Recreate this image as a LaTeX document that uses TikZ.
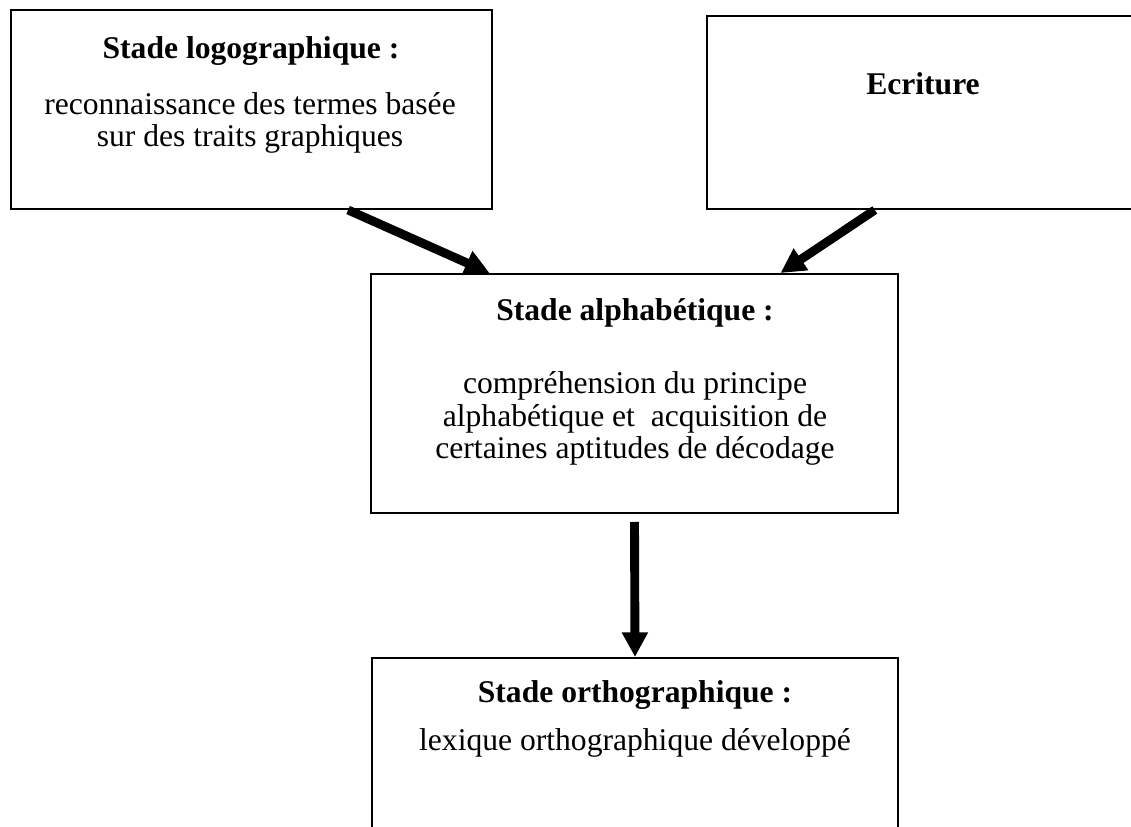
\documentclass[tikz,border=0pt]{standalone}
\usepackage{fontspec}
\setmainfont{Liberation Serif}
\usetikzlibrary{arrows.meta,fit,calc}
\begin{document}
\begin{tikzpicture}[x=0.01424cm, y=-0.01424cm]
        \tikzstyle{stade}=[draw=black, line width=0.8pt, inner sep=0pt]
        \tikzstyle{titre}=[font=\fontsize{12.8pt}{13.3pt}\selectfont\bfseries, anchor=base, inner sep=0pt]
        \tikzstyle{texte}=[font=\fontsize{12.8pt}{13.3pt}\selectfont, align=center, anchor=base, inner sep=0pt]
        \tikzstyle{fleche}=[line width=3.6pt, -{Triangle[length=10pt,width=10pt]}]

        \useasboundingbox (0,0) rectangle (1131,827);

        \node (logo)[stade, fit={(11,10) (492,209)}] {};
        \node (ecrit)[stade, fit={(707,16) (1139,209)}] {};
        \node (alpha)[stade, fit={(371,274) (898,513)}] {};
        \node (ortho)[stade, fit={(372,658) (898,850)}] {};

        % base = last line
        \node (logot)[titre] at (251,59) {Stade logographique :};
        \node (logob)[texte] at (250,147) {reconnaissance des termes basée\\sur des traits graphiques};
        \node (ecritt)[titre] at (923,95) {Ecriture};
        \node (alphat)[titre] at (635,321) {Stade alphabétique :};
        \node (alphab)[texte] at (635,459) {compréhension du principe\\alphabétique et~ acquisition de\\certaines aptitudes de décodage};
        \node (orthot)[titre] at (635,702) {Stade orthographique :};
        \node (orthob)[texte] at (635,750) {lexique orthographique développé};

        \draw[fleche] ($(logo.south west)!0.7!(logo.south east)$) -- ($(alpha.north west)!0.226!(alpha.north east)$);
        \draw[fleche] ($(ecrit.south west)!0.389!(ecrit.south east)$) -- ($(alpha.north west)!0.776!(alpha.north east)$);
        \draw[fleche] (alpha.south) ++(0,8) -- (ortho.north);
\end{tikzpicture}
\end{document}
